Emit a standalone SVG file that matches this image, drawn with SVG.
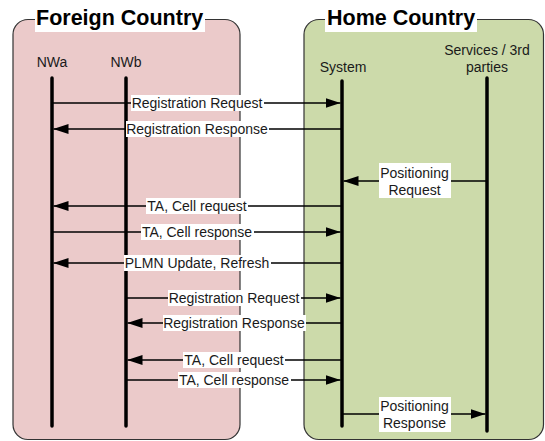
<svg xmlns="http://www.w3.org/2000/svg" width="545" height="441" viewBox="0 0 545 441">
<defs>
<style>
.box{stroke:#333;stroke-width:1.2}
.title{font-family:"Liberation Sans",Arial,sans-serif;font-weight:bold;font-size:21.5px;fill:#000}
.lbl{font-family:"Liberation Sans",Arial,sans-serif;font-size:14px;fill:#1a1a1a;text-anchor:middle}
.life{stroke:#000;stroke-width:3.5;stroke-linecap:round;fill:none}
.msg{stroke:#000;stroke-width:1.3;fill:none;marker-end:url(#arr)}
.bg{fill:#fff}
</style>
<marker id="arr" viewBox="0 0 15 10" refX="15" refY="5" markerWidth="15" markerHeight="10" markerUnits="userSpaceOnUse" orient="auto">
<path d="M0,0 L15,5 L0,10 z" fill="#000"/>
</marker>
</defs>

<g id="foreign">
<rect class="box" x="13" y="19.5" width="227" height="420" rx="15" fill="#EBCACA"/>
<rect class="bg" x="35" y="5" width="170" height="27"/>
<text class="title" x="36" y="25">Foreign Country</text>
</g>
<g id="home">
<rect class="box" x="304" y="19.5" width="239.5" height="420" rx="15" fill="#CCDAAA"/>
<rect class="bg" x="325" y="5" width="152" height="27"/>
<text class="title" x="327" y="25">Home Country</text>
</g>

<g id="NWa">
<text class="lbl" x="52" y="67">NWa</text>
<line class="life" x1="52" y1="78" x2="52" y2="426"/>
</g>
<g id="NWb">
<text class="lbl" x="126" y="67">NWb</text>
<line class="life" x1="126" y1="78" x2="126" y2="426"/>
</g>
<g id="System">
<text class="lbl" x="343" y="72">System</text>
<line class="life" x1="342" y1="81" x2="342" y2="426"/>
</g>
<g id="Services">
<text class="lbl" x="487" y="55">Services / 3rd</text>
<text class="lbl" x="487" y="72">parties</text>
<line class="life" x1="487" y1="78" x2="487" y2="431"/>
</g>

<g id="connectors">
<line class="msg" x1="52" y1="103" x2="340.5" y2="103"/>
<line class="msg" x1="342" y1="129" x2="53.5" y2="129"/>
<line class="msg" x1="487" y1="181" x2="343.5" y2="181"/>
<line class="msg" x1="342" y1="206" x2="53.5" y2="206"/>
<line class="msg" x1="52" y1="232" x2="340.5" y2="232"/>
<line class="msg" x1="342" y1="263" x2="53.5" y2="263"/>
<line class="msg" x1="126" y1="298" x2="340.5" y2="298"/>
<line class="msg" x1="342" y1="323" x2="127.5" y2="323"/>
<line class="msg" x1="342" y1="360" x2="127.5" y2="360"/>
<line class="msg" x1="126" y1="380" x2="340.5" y2="380"/>
<line class="msg" x1="342" y1="414" x2="485.5" y2="414"/>

<rect class="bg" x="131" y="95" width="133" height="16"/>
<text class="lbl" x="197" y="108">Registration Request</text>
<rect class="bg" x="126" y="121" width="143" height="16"/>
<text class="lbl" x="197" y="134">Registration Response</text>
<rect class="bg" x="379" y="163" width="72" height="35"/>
<text class="lbl" x="414.5" y="177.5">Positioning</text>
<text class="lbl" x="414.5" y="194.5">Request</text>
<rect class="bg" x="146" y="198" width="102" height="16"/>
<text class="lbl" x="197" y="211">TA, Cell request</text>
<rect class="bg" x="141" y="224" width="113" height="16"/>
<text class="lbl" x="197" y="237">TA, Cell response</text>
<rect class="bg" x="124" y="255" width="147" height="16"/>
<text class="lbl" x="197" y="268">PLMN Update, Refresh</text>
<rect class="bg" x="168" y="290" width="133" height="16"/>
<text class="lbl" x="234" y="303">Registration Request</text>
<rect class="bg" x="163" y="315" width="143" height="16"/>
<text class="lbl" x="234" y="328">Registration Response</text>
<rect class="bg" x="183" y="352" width="102" height="16"/>
<text class="lbl" x="234" y="365">TA, Cell request</text>
<rect class="bg" x="178" y="372" width="113" height="16"/>
<text class="lbl" x="234" y="385">TA, Cell response</text>
<rect class="bg" x="379" y="397" width="72" height="35"/>
<text class="lbl" x="414.5" y="410.5">Positioning</text>
<text class="lbl" x="414.5" y="427.5">Response</text>
</g>
</svg>
